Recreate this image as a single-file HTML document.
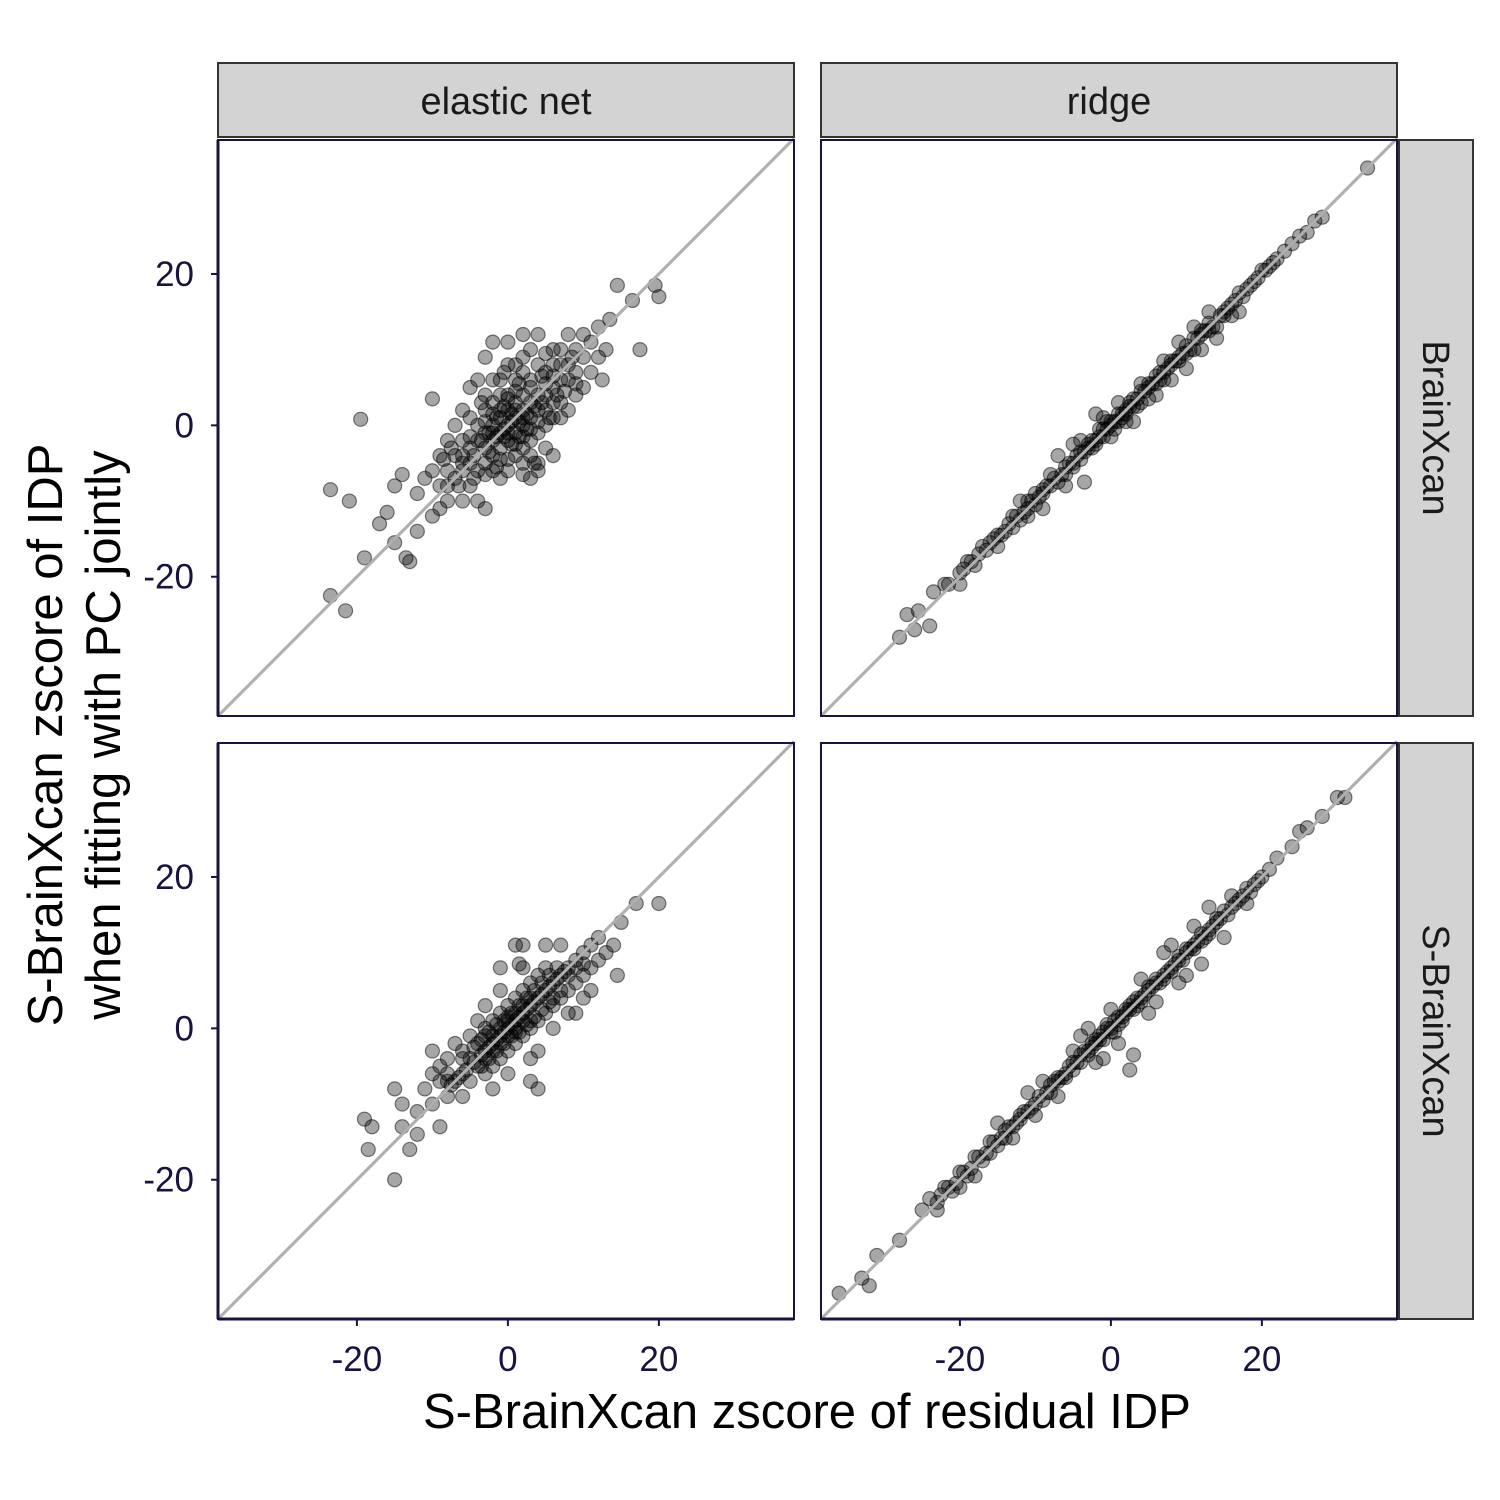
<!DOCTYPE html>
<html><head><meta charset="utf-8"><style>
body{margin:0;background:#fff;}
svg{display:block;font-family:"Liberation Sans",sans-serif;}
</style></head><body>
<svg id="chart" width="1500" height="1500" viewBox="0 0 1500 1500">
<rect width="1500" height="1500" fill="#fff"/>
</svg>
<script>
// Facet labels
const colLabels = ["elastic net", "ridge"];
const rowLabels = ["BrainXcan", "S-BrainXcan"];
const xTicks = [-20, 0, 20];
const yTicks = [-20, 0, 20];
// Data: [x (residual IDP zscore), y (joint PC zscore)]
const enetBrainXcan = [[-23.5,-8.5],[-21,-10],[-19.5,0.8],[-23.5,-22.5],[-21.5,-24.5],[-19,-17.5],[-17,-13],[-16,-11.5],[-15,-8],[-14,-6.5],[-13,-18],[-13.5,-17.5],[-15,-15.5],[-12,-14],[-10,3.5],[-9,-11],[-8,-8],[-6,-10],[-12,-9],[14.5,18.5],[16.5,16.5],[20,17],[19.5,18.5],[17.5,10],[13.5,14],[12,9],[11,7],[10,5],[13,10],[12.5,6],[-4,-10],[-3,-11],[3,-7],[5,-3],[4,-5],[6,3],[8,8],[7,10],[3,10],[2,12],[4,12],[0,11],[-2,11],[-3,9],[-4,6],[-5,5],[-2,6],[6,-4],[9,4],[-7,0],[-8,-2],[-9,-4],[-10,-6],[-11,-7],[-6,-6],[-5,-3],[-4,-2],[-3,-5],[-2,-4],[-1,-3],[0,-2],[1,-1],[2,0],[3,1],[4,2],[5,4],[6,5],[7,6],[-1,1],[0,2],[1,3],[2,4],[-2,0],[-3,-1],[0,0],[1,-4],[2,-3],[3,-2],[4,-1],[-1,4],[-2,3],[-3,2],[5,7],[6,8],[1,6],[2,7],[-6,-2],[-7,-4],[-5,-8],[8,2],[9,7],[10,9],[11,11],[7,3],[-8,-6],[-1,-7],[0,-6],[3,5],[4,8],[-4,-6],[-5,-5],[-6,-4],[1,1],[0,-1],[-1,-1],[1,2],[2,2],[3,3],[-2,-2],[-3,-3],[4,4],[5,2],[-4,0],[-2,-6],[2,-5],[6,1],[-7,-7],[8,6],[9,10],[-9,-8],[0,4],[1,8],[-1,6],[3,-4],[5,0],[7,1],[-5,1],[-8,-10],[-10,-12],[8,12],[10,12],[12,13],[-6,2],[4,-6],[0,8],[2,9],[-3,4],
[-0.5,-0.5],[0.5,0.5],[1.5,0.5],[-1.5,-1.5],[2.5,1.5],[-2.5,-1],[0.5,-2.5],[-0.5,2.5],[1.5,-1.5],[-1.5,1],[3.5,2.5],[-3.5,-2],[2.5,-0.5],[-2.5,-3.5],[4.5,3],[-4.5,-4],[0,3.5],[1,4.5],[-1,-4.5],[3,6],[-3,-6.5],[5,5.5],[-5,-1.5],[6,6.5],[-6,-5],[2,1],[-2,-1],[3,-0.5],[-3,0.5],[4,0.5],[1,-2.5],[-1,2],[0.5,1.5],[-0.5,-1.5],[2,-1.5],[-2,1.5],[5.5,1],[-4.5,-7],[6.5,4],[7.5,4.5],[-7.5,-3],[4.5,6.5],[-1.5,-5.5],[1.5,5.5],[3.5,-5],[-6.5,-8],[8.5,9],[0,-4.5],[2,-6.5],[-3.5,3],[5,9.5],[-0.5,7],[7,8],[6,10],[9,5.5],[-8.5,-4.5]];
const ridgeBrainXcan = [[-28,-28],[-27,-25],[-26,-27],[-25.5,-24.5],[-24,-26.5],[-23.5,-22],[-22,-21],[-20,-19.5],[-19,-18],[-18,-18.5],[-16,-15.5],[-15,-14.5],[-14,-14],[-13,-12],[-12,-12.5],[-11,-10],[-10,-10.5],[-9,-8.5],[-8,-8],[-7,-7.5],[-6,-5.5],[-5,-5],[-4,-4.5],[-3,-2.5],[-2,-2],[-1,-1.5],[0,0],[1,0.5],[2,2],[3,3.5],[4,3],[5,5],[6,6.5],[7,6],[8,8],[9,9],[10,10.5],[11,10],[12,12],[13,13.5],[14,13],[15,15],[16,16],[17,17.5],[18,18],[19,19],[20,20.5],[21,21],[22,22],[23,23],[25,25],[26,25.5],[28,27.5],[34,34],[-3.5,-7.5],[-7,-4],[-5,-2.5],[-2,1.5],[1,3],[3,0.5],[6,4],[10,7.5],[11,13],[-12,-10],[-9,-11],[-6,-8],[-4,-2],[-1,1],[0,-1.5],[2,0.5],[4,5.5],[5,3.5],[7,8.5],[8,6],[9,11],[12,10],[13,15],[14,11.5],[16,14.5],[17,15],[-20,-21],[-17,-16],[-15,-16],[-11,-12],[-8,-6.5],[-0.5,0.5],[0.5,-0.5],[1.5,1.5],[-1.5,-0.5],[2.5,3],[3.5,2.5],[-2.5,-3],[6.5,7],[-10,-9],
[-21.5,-21],[-19.5,-19],[-18.5,-18],[-17.5,-17],[-16.5,-16.5],[-15.5,-15],[-14.5,-14.5],[-13.5,-13],[-12.5,-12],[-11.5,-11.5],[-10.5,-10],[-9.5,-9.5],[-8.5,-8],[-7.5,-7],[-6.5,-6.5],[-5.5,-5],[-4.5,-4],[-3.5,-3.5],[-2.5,-2],[-1.5,-1.5],[-0.5,-0.5],[0.5,0.5],[1.5,1],[2.5,2.5],[3.5,3.5],[4.5,4.5],[5.5,5.5],[6.5,6],[7.5,7.5],[8.5,8.5],[9.5,9.5],[10.5,10],[11.5,11.5],[12.5,12.5],[13.5,13],[14.5,14.5],[15.5,15.5],[16.5,16.5],[17.5,17],[18.5,18.5],[19.5,19.5],[20.5,20.5],[21.5,21.5],[-6,-6.5],[-4,-3.5],[-2,-2.5],[0,0.5],[2,1.5],[4,4.5],[6,5.5],[8,8.5],[10,9.5],[12,12.5],[-5,-5.5],[-3,-3],[-1,-0.5],[1,1.5],[3,2.5],[5,5.5],[7,7],[9,8.5],[11,11.5],[13,12.5],[15,14.5],[-9,-9],[-11,-11],[-13,-13.5],[24,24],[27,27]];
const enetSBrainXcan = [[-19,-12],[-18.5,-16],[-18,-13],[-15,-20],[-14,-13],[-15,-8],[-14,-10],[-13,-16],[-12,-11],[-12,-14],[-11,-8],[-10,-6],[-10,-10],[-9,-13],[-9,-5],[-8,-9],[-8,-4],[-7,-7],[-7,-2],[-6,-6],[-6,-3],[-5,-4],[-5,-1],[-5,-7],[-4,-5],[-4,-2],[-4,1],[-3,-3],[-3,-6],[-3,0],[-2,-2],[-2,1],[-2,-5],[-1,-1],[-1,2],[-1,-4],[0,0],[0,3],[0,-3],[1,1],[1,-2],[1,4],[2,2],[2,-1],[2,5],[3,3],[3,0],[3,6],[4,4],[4,1],[4,7],[5,5],[5,2],[5,8],[6,6],[6,3],[7,7],[7,4],[8,8],[8,5],[9,9],[9,6],[10,10],[10,7],[11,11],[11,8],[12,12],[12,9],[13,10],[14,11],[15,14],[14.5,7],[17,16.5],[20,16.5],[1,11],[2,11],[1.5,8.5],[-1,8],[3,-4],[4,-3],[4,-8],[0,-6],[-2,-8],[8,2],[10,4],[6,0],[-8,-7],[-6,-9],[9,2],[11,5],[-3,3],[-1,5],[2,8],[5,11],[7,11],[-10,-3],[3,-7],[-0.5,1],[0.5,-1],[1,2],[-1,-2],[2,3],[-2,-3],[3,1],[-3,-1],[0,1.5],[1,-0.5],
[-0.5,-0.5],[0.5,0.5],[1.5,1.5],[-1.5,-1.5],[2.5,2.5],[-2.5,-2.5],[3.5,3.5],[-3.5,-3.5],[4.5,4.5],[-4.5,-4.5],[5.5,5.5],[-5.5,-5.5],[6.5,6.5],[-6.5,-6.5],[7.5,7.5],[-7.5,-7.5],[0.5,2],[-0.5,-2],[1.5,3],[-1.5,-3],[2.5,4],[-2.5,-4],[3.5,5],[-3.5,-5],[4.5,6],[5.5,7],[6.5,8],[1.5,-0.5],[2.5,0.5],[3.5,1.5],[4.5,2.5],[5.5,3.5],[-1.5,0.5],[-2.5,-0.5],[-3.5,-1.5],[-4.5,-2.5],[0,-1],[1,0],[-1,0],[2,1],[-2,-1],[0,1],[6,4],[-6,-4],[8,7],[-8,-6],[7,5],[3,4],[-3,-4],[9,8],[10,8.5],[-9,-7]];
const ridgeSBrainXcan = [[-36,-35],[-33,-33],[-32,-34],[-31,-30],[-28,-28],[-25,-24],[-24,-22.5],[-23,-23],[-22,-21],[-21,-21.5],[-20,-19],[-19,-19.5],[-18,-17],[-17,-17.5],[-16,-15],[-15,-15.5],[-14,-13.5],[-13,-13],[-12,-11.5],[-11,-11],[-10,-10],[-9,-9.5],[-8,-7.5],[-7,-7],[-6,-6],[-5,-5.5],[-4,-3.5],[-3,-3],[-2,-2],[-1,-1.5],[0,0],[1,0.5],[2,2],[3,3.5],[4,4],[5,5],[6,6.5],[7,7],[8,8],[9,9.5],[10,10],[11,11],[12,12.5],[13,13],[14,14],[15,15.5],[16,16],[17,17],[18,18.5],[19,19],[20,20],[21,21],[22,22.5],[24,24],[25,26],[26,26.5],[28,28],[30,30.5],[31,30.5],[3,-3.5],[2.5,-5.5],[-1,-4],[-4,-1],[-7,-9],[-9,-7],[-13,-14.5],[-15,-12.5],[5,2],[7,10],[9,6],[11,13.5],[12,8.5],[13,16],[15,12],[-3,0],[0,2.5],[1,-2],[4,6.5],[6,3.5],[8,11],[10,7],[-2,-4.5],[-5,-3],[-10,-11.5],[-11,-8.5],[-18,-19.5],[-0.5,0.5],[0.5,-0.5],[1.5,1.5],[-1.5,-1],[2.5,3],[-2.5,-2.5],[3.5,3],[16,17.5],[18,16.5],[-20,-21],[-23,-24],
[-22.5,-22],[-21.5,-21],[-20.5,-20.5],[-19.5,-19],[-18.5,-18.5],[-17.5,-17],[-16.5,-16.5],[-15.5,-15],[-14.5,-14.5],[-13.5,-13],[-12.5,-12.5],[-11.5,-11],[-10.5,-10.5],[-9.5,-9],[-8.5,-8.5],[-7.5,-7],[-6.5,-6.5],[-5.5,-5],[-4.5,-4.5],[-3.5,-3],[-2.5,-2],[-1.5,-1.5],[-0.5,0],[0.5,1],[1.5,1],[2.5,2.5],[3.5,4],[4.5,4.5],[5.5,5.5],[6.5,6],[7.5,7.5],[8.5,8.5],[9.5,9],[10.5,10.5],[11.5,11.5],[12.5,12],[13.5,13.5],[14.5,14.5],[15.5,15],[16.5,16.5],[17.5,17.5],[18.5,18],[19.5,19.5],[-6,-6.5],[-4,-4.5],[-2,-1.5],[0,-0.5],[2,2.5],[4,3.5],[6,6],[8,7.5],[10,10.5],[-8,-8.5],[-12,-12],[-14,-14.5],[-16,-16.5],[12,11.5],[14,14.5],[-7,-6.5],[-5,-4.5],[-3,-3.5],[-1,-0.5],[1,1.5],[3,2.5],[5,5.5],[7,6.5],[9,9],[11,10.5],[13,12.5]];
const panelData = [[enetBrainXcan, ridgeBrainXcan],[enetSBrainXcan, ridgeSBrainXcan]];

const NS = "http://www.w3.org/2000/svg";
const svg = document.getElementById("chart");
function mk(tag, attrs, parent){const e=document.createElementNS(NS,tag);for(const k in attrs)e.setAttribute(k,attrs[k]);(parent||svg).appendChild(e);return e;}

const colX = [218, 821], rowY = [140, 743], P = 576;
const xmin=-38.4, xmax=37.9, ymin=-38.4, ymax=37.7;
function sx(c,v){return colX[c]+(v-xmin)/(xmax-xmin)*P;}
function sy(r,v){return rowY[r]+P-(v-ymin)/(ymax-ymin)*P;}
const ink="#1c1240";

for(let r=0;r<2;r++){for(let c=0;c<2;c++){
  const g=mk("g",{});
  
  
  const ln=mk("line",{x1:sx(c,xmin),y1:sy(r,ymin),x2:sx(c,xmax),y2:sy(r,xmax),stroke:"#b0b0b0","stroke-width":3},g);
  
  
  for(const p of panelData[r][c]){
    const pt=mk("circle",{cx:sx(c,p[0]),cy:sy(r,p[1]),r:7,fill:"rgba(0,0,0,0.35)",stroke:"rgba(0,0,0,0.5)","stroke-width":1.2},g);
    
    
  }
  const ln2=mk("line",{x1:sx(c,xmin),y1:sy(r,ymin),x2:sx(c,xmax),y2:sy(r,xmax),stroke:"#b0b0b0","stroke-width":3},g);
  
  
  const b=mk("rect",{x:colX[c],y:rowY[r],width:P,height:P,fill:"none",stroke:ink,"stroke-width":2},g);
  
  
}}
for(let r=0;r<2;r++){
  const ax=mk("line",{x1:218,y1:rowY[r],x2:218,y2:rowY[r]+P,stroke:ink,"stroke-width":3});
  
  
  for(const t of yTicks){
    const tk=mk("line",{x1:211,x2:218,y1:sy(r,t),y2:sy(r,t),stroke:ink,"stroke-width":2});
    
    
    const tl=mk("text",{x:194,y:sy(r,t)+12,"text-anchor":"end","font-size":35,fill:ink});
    tl.textContent=t;
    
    
  }
}
for(let c=0;c<2;c++){
  const ax=mk("line",{x1:colX[c],y1:1319,x2:colX[c]+P,y2:1319,stroke:ink,"stroke-width":3});
  
  
  for(const t of xTicks){
    const tk=mk("line",{x1:sx(c,t),x2:sx(c,t),y1:1319,y2:1326,stroke:ink,"stroke-width":2});
    
    
    const tl=mk("text",{x:sx(c,t),y:1371,"text-anchor":"middle","font-size":35,fill:ink});
    tl.textContent=t;
    
    
  }
}
for(let c=0;c<2;c++){
  const s=mk("rect",{x:colX[c],y:63,width:P,height:74,fill:"#d3d3d3",stroke:"#333","stroke-width":2});
  
  
  const t=mk("text",{x:colX[c]+P/2,y:114,"text-anchor":"middle","font-size":38,fill:"#1a1a1a"});
  t.textContent=colLabels[c];
  
  
}
for(let r=0;r<2;r++){
  const s=mk("rect",{x:1399,y:rowY[r],width:74,height:P,fill:"#d3d3d3",stroke:"#333","stroke-width":2});
  
  
  const cy=rowY[r]+P/2;
  const t=mk("text",{x:1423,y:cy,"text-anchor":"middle","font-size":38,fill:"#1a1a1a",transform:"rotate(90 1423 "+cy+")"});
  t.textContent=rowLabels[r];
  
  
}
const xt=mk("text",{x:807,y:1428,"text-anchor":"middle","font-size":49,fill:"#000"});
xt.textContent="S-BrainXcan zscore of residual IDP";


const yt=mk("text",{x:0,y:0,"text-anchor":"middle","font-size":49,fill:"#000",transform:"translate(62 735) rotate(-90)"});


const l1=mk("tspan",{x:0,dy:0},yt);l1.textContent="S-BrainXcan zscore of IDP";
const l2=mk("tspan",{x:0,dy:58},yt);l2.textContent="when fitting with PC jointly";
</script>
</body></html>
